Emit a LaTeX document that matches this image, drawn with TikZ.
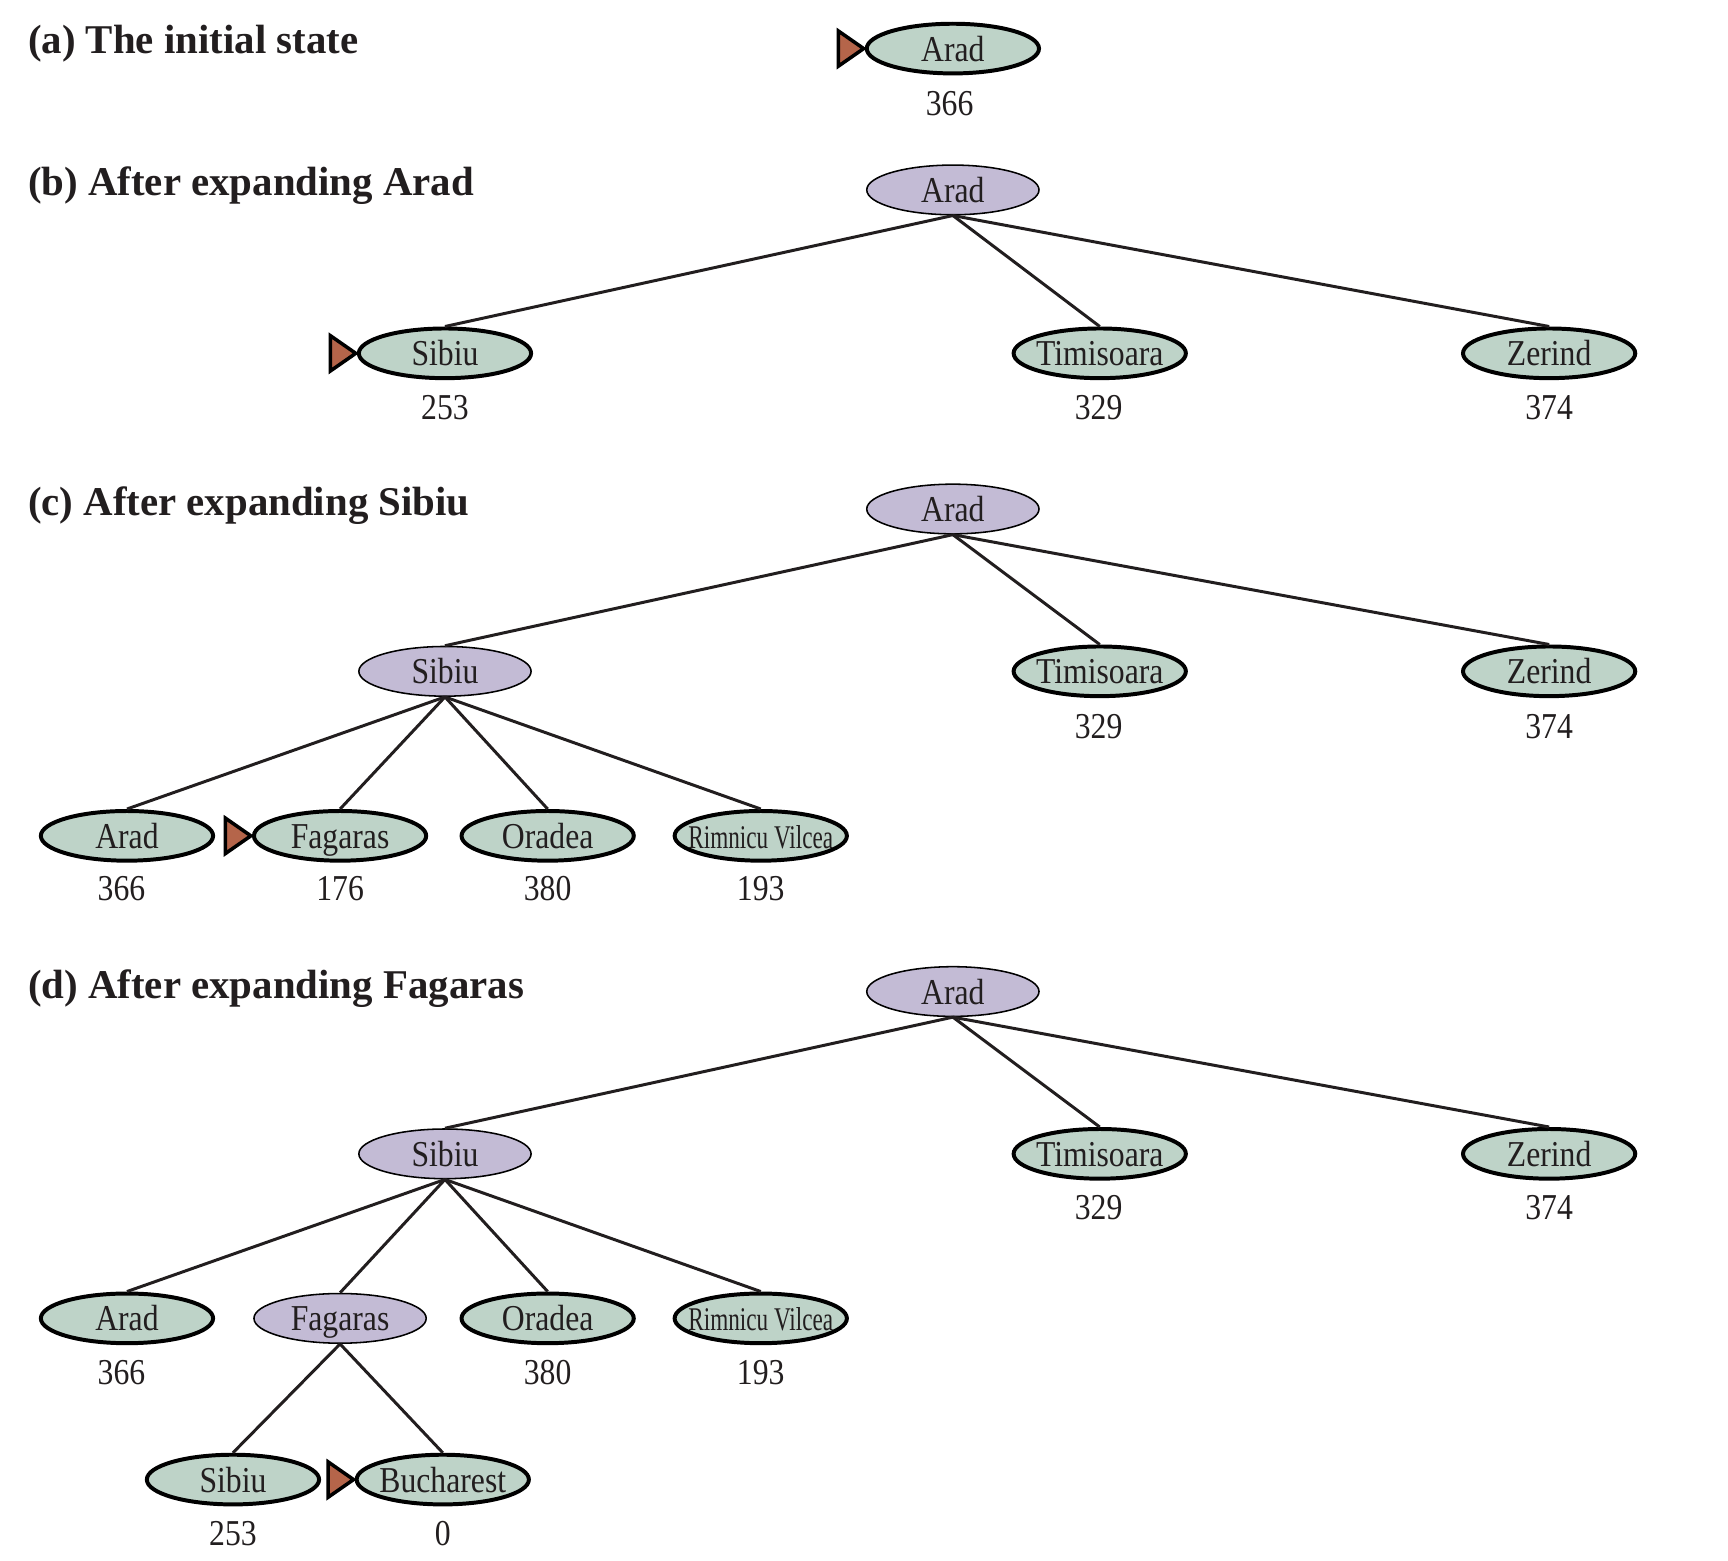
\documentclass[tikz,border=0pt]{standalone}
\usepackage{fontspec}
\setmainfont{Liberation Serif}
\newfontfamily\nf[FakeStretch=0.87]{Liberation Serif}
\newfontfamily\nfr[FakeStretch=0.70]{Liberation Serif}
\usetikzlibrary{shapes.geometric,calc}
\definecolor{frontier}{RGB}{190,211,200}
\definecolor{expanded}{RGB}{195,187,213}
\definecolor{marker}{RGB}{181,101,74}
\definecolor{ink}{RGB}{34,30,31}
\newcommand\nextmk[1]{\draw[nextmark] ($(#1.west)+(-24,-16)$) -- ($(#1.west)+(-1,0)$) -- ($(#1.west)+(-24,16)$) -- cycle;}
\newcommand\cname[1]{\makebox[0pt]{#1}}
\begin{document}
\begin{tikzpicture}[x=0.5pt,y=-0.5pt,
 city/.style={ellipse, minimum width=78pt, minimum height=22.5pt, inner sep=0pt, text height=11.4pt, text depth=0pt, font=\nf\fontsize{16.5}{18}\selectfont, text=ink},
 front/.style={city, draw=black, line width=1.8pt, fill=frontier},
 expd/.style={city, draw=black, line width=0.7pt, fill=expanded},
 hval/.style={font=\nf\fontsize{16.5}{18}\selectfont, text=ink, inner sep=0pt},
 title/.style={font=\bfseries\fontsize{18.5}{20}\selectfont, anchor=west, inner sep=0pt, text=ink},
 edge/.style={draw=ink, line width=1.35pt},
 nextmark/.style={draw=black, line width=1.6pt, fill=marker, line join=miter},
]
\useasboundingbox (0,0) rectangle (1565,1413);
% (a)
\node[title] (ta) at (25,40) {(a) The initial state};
\node[front] (a1) at (863,44) {\cname{Arad}};
\node[hval] (ha1) at (860,94) {366};
\nextmk{a1}
% (b)
\node[title] (tb) at (25,168) {(b) After expanding Arad};
\node[expd] (b1) at (863,172) {\cname{Arad}};
\node[front] (b2) at (403,320) {\cname{Sibiu}};
\node[front] (b3) at (996,320) {\cname{Timisoara}};
\node[front] (b4) at (1403,320) {\cname{Zerind}};
\node[hval] (hb2) at (403,369) {253};
\node[hval] (hb3) at (995,369) {329};
\node[hval] (hb4) at (1403,369) {374};
\draw[edge] (b1.south) -- (b2.north);
\draw[edge] (b1.south) -- (b3.north);
\draw[edge] (b1.south) -- (b4.north);
\nextmk{b2}
% (c)
\node[title] (tc) at (25,458) {(c) After expanding Sibiu};
\node[expd] (c1) at (863,461) {\cname{Arad}};
\node[expd] (c2) at (403,608) {\cname{Sibiu}};
\node[front] (c3) at (996,608) {\cname{Timisoara}};
\node[front] (c4) at (1403,608) {\cname{Zerind}};
\node[hval] (hc3) at (995,658) {329};
\node[hval] (hc4) at (1403,658) {374};
\node[front] (c5) at (115,757) {\cname{Arad}};
\node[front] (c6) at (308,757) {\cname{Fagaras}};
\node[front] (c7) at (496,757) {\cname{Oradea}};
\node[front] (c8) at (689,757) {\cname{\nfr\fontsize{15}{16}\selectfont Rimnicu Vilcea}};
\node[hval] (hc5) at (110,805) {366};
\node[hval] (hc6) at (308,805) {176};
\node[hval] (hc7) at (496,805) {380};
\node[hval] (hc8) at (689,805) {193};
\draw[edge] (c1.south) -- (c2.north);
\draw[edge] (c1.south) -- (c3.north);
\draw[edge] (c1.south) -- (c4.north);
\draw[edge] (c2.south) -- (c5.north);
\draw[edge] (c2.south) -- (c6.north);
\draw[edge] (c2.south) -- (c7.north);
\draw[edge] (c2.south) -- (c8.north);
\nextmk{c6}
% (d)
\node[title] (td) at (25,895) {(d) After expanding Fagaras};
\node[expd] (d1) at (863,898) {\cname{Arad}};
\node[expd] (d2) at (403,1045) {\cname{Sibiu}};
\node[front] (d3) at (996,1045) {\cname{Timisoara}};
\node[front] (d4) at (1403,1045) {\cname{Zerind}};
\node[hval] (hd3) at (995,1094) {329};
\node[hval] (hd4) at (1403,1094) {374};
\node[front] (d5) at (115,1194) {\cname{Arad}};
\node[expd] (d6) at (308,1194) {\cname{Fagaras}};
\node[front] (d7) at (496,1194) {\cname{Oradea}};
\node[front] (d8) at (689,1194) {\cname{\nfr\fontsize{15}{16}\selectfont Rimnicu Vilcea}};
\node[hval] (hd5) at (110,1243) {366};
\node[hval] (hd7) at (496,1243) {380};
\node[hval] (hd8) at (689,1243) {193};
\node[front] (d9) at (211,1340) {\cname{Sibiu}};
\node[front] (d10) at (401,1340) {\cname{Bucharest}};
\node[hval] (hd9) at (211,1389) {253};
\node[hval] (hd10) at (401,1389) {0};
\draw[edge] (d1.south) -- (d2.north);
\draw[edge] (d1.south) -- (d3.north);
\draw[edge] (d1.south) -- (d4.north);
\draw[edge] (d2.south) -- (d5.north);
\draw[edge] (d2.south) -- (d6.north);
\draw[edge] (d2.south) -- (d7.north);
\draw[edge] (d2.south) -- (d8.north);
\draw[edge] (d6.south) -- (d9.north);
\draw[edge] (d6.south) -- (d10.north);
\nextmk{d10}
\end{tikzpicture}
\end{document}
